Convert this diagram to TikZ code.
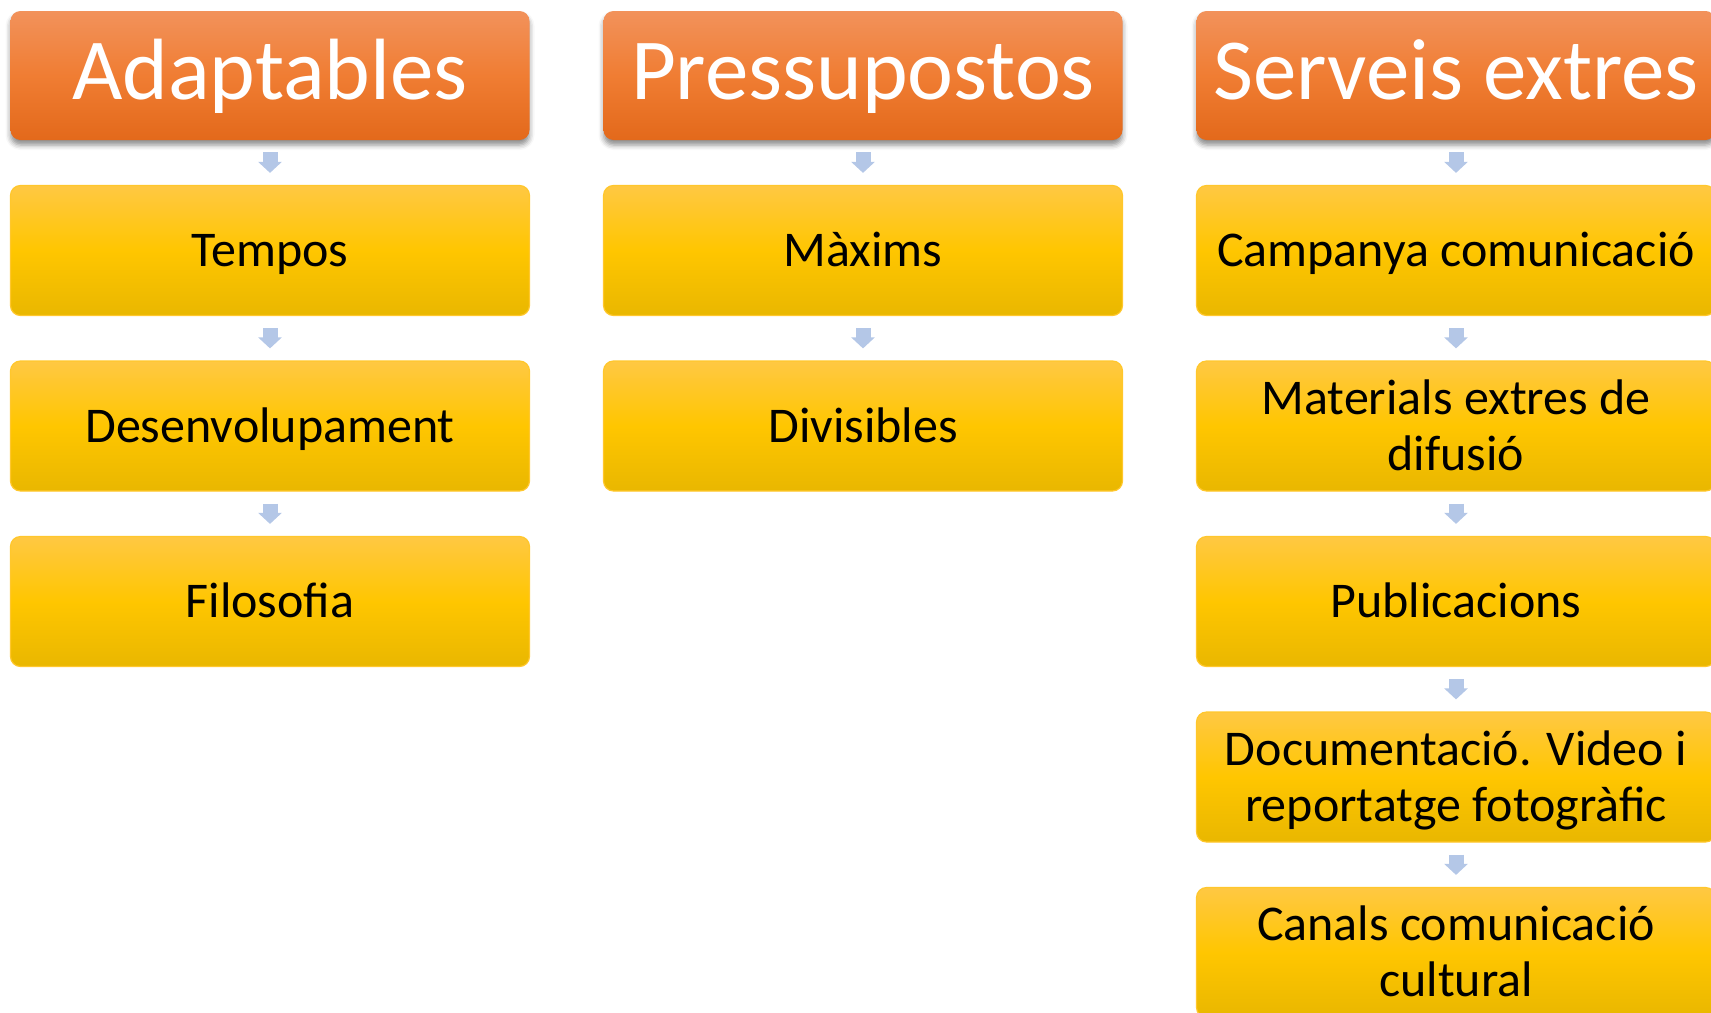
\documentclass[tikz,border=0pt]{standalone}
\usepackage{fontspec}
\setmainfont{Carlito}
\usetikzlibrary{arrows.meta,shadows.blur}
\definecolor{hdTop}{HTML}{F2925B}
\definecolor{hdMid}{HTML}{F07D33}
\definecolor{hdBot}{HTML}{E3691B}
\definecolor{bxTop}{HTML}{FFC843}
\definecolor{bxMid}{HTML}{FFC600}
\definecolor{bxBot}{HTML}{E9B700}
\definecolor{bxLine}{HTML}{FFC72C}
\definecolor{arr}{HTML}{B4C7E7}
\begin{document}
\begin{tikzpicture}[x=0.5pt,y=-0.5pt,
 header/.style={rectangle, rounded corners=5pt, minimum width=259.5pt, minimum height=64.5pt, inner sep=0pt,
   top color=hdTop, bottom color=hdBot, middle color=hdMid, draw=none, text=white,
   font=\fontsize{43.5}{50}\selectfont, text height=28pt, text depth=4.5pt,
   blur shadow={shadow xshift=0pt, shadow yshift=-2.5pt, shadow blur radius=2.5pt, shadow opacity=45}},
 item/.style={rectangle, rounded corners=5pt, minimum width=259.5pt, minimum height=65pt, inner sep=0pt,
   top color=bxTop, bottom color=bxBot, middle color=bxMid, draw=bxLine, line width=0.6pt, text=black,
   font=\fontsize{25}{28}\selectfont, align=center, text height=16.1pt, text depth=0pt},
 itemtwo/.style={item, text height=44.1pt},
 link/.style={draw=arr, line width=7.5pt, -{Triangle[width=11.5pt,length=5.5pt]}, shorten <=6pt, shorten >=6pt}
]
\useasboundingbox (0,0) rectangle (1711,1012);
\clip (0,0) rectangle (1711,1012);
% headers
\node[header] (h1) at (270,75.5) {Adaptables};
\node[header] (h2) at (863,75.5) {Pressupostos};
\node[header] (h3) at (1456,75.5) {Serveis extres};
% column 1
\node[item] (a1) at (270,250.5) {Tempos};
\node[item] (a2) at (270,426) {Desenvolupament};
\node[item] (a3) at (270,601.5) {Filosofia};
% column 2
\node[item] (b1) at (863,250.5) {Màxims};
\node[item] (b2) at (863,426) {Divisibles};
% column 3
\node[item] (c1) at (1456,250.5) {Campanya comunicació};
\node[itemtwo] (c2) at (1456,426) {Materials extres de\\difusió};
\node[item] (c3) at (1456,601.5) {Publicacions};
\node[itemtwo] (c4) at (1456,777) {Documentació. Video i\\reportatge fotogràfic};
\node[itemtwo] (c5) at (1456,952.5) {Canals comunicació\\cultural};
% connectors
\draw[link] (h1) -- (a1);
\draw[link] (a1) -- (a2);
\draw[link] (a2) -- (a3);
\draw[link] (h2) -- (b1);
\draw[link] (b1) -- (b2);
\draw[link] (h3) -- (c1);
\draw[link] (c1) -- (c2);
\draw[link] (c2) -- (c3);
\draw[link] (c3) -- (c4);
\draw[link] (c4) -- (c5);
\end{tikzpicture}
\end{document}
